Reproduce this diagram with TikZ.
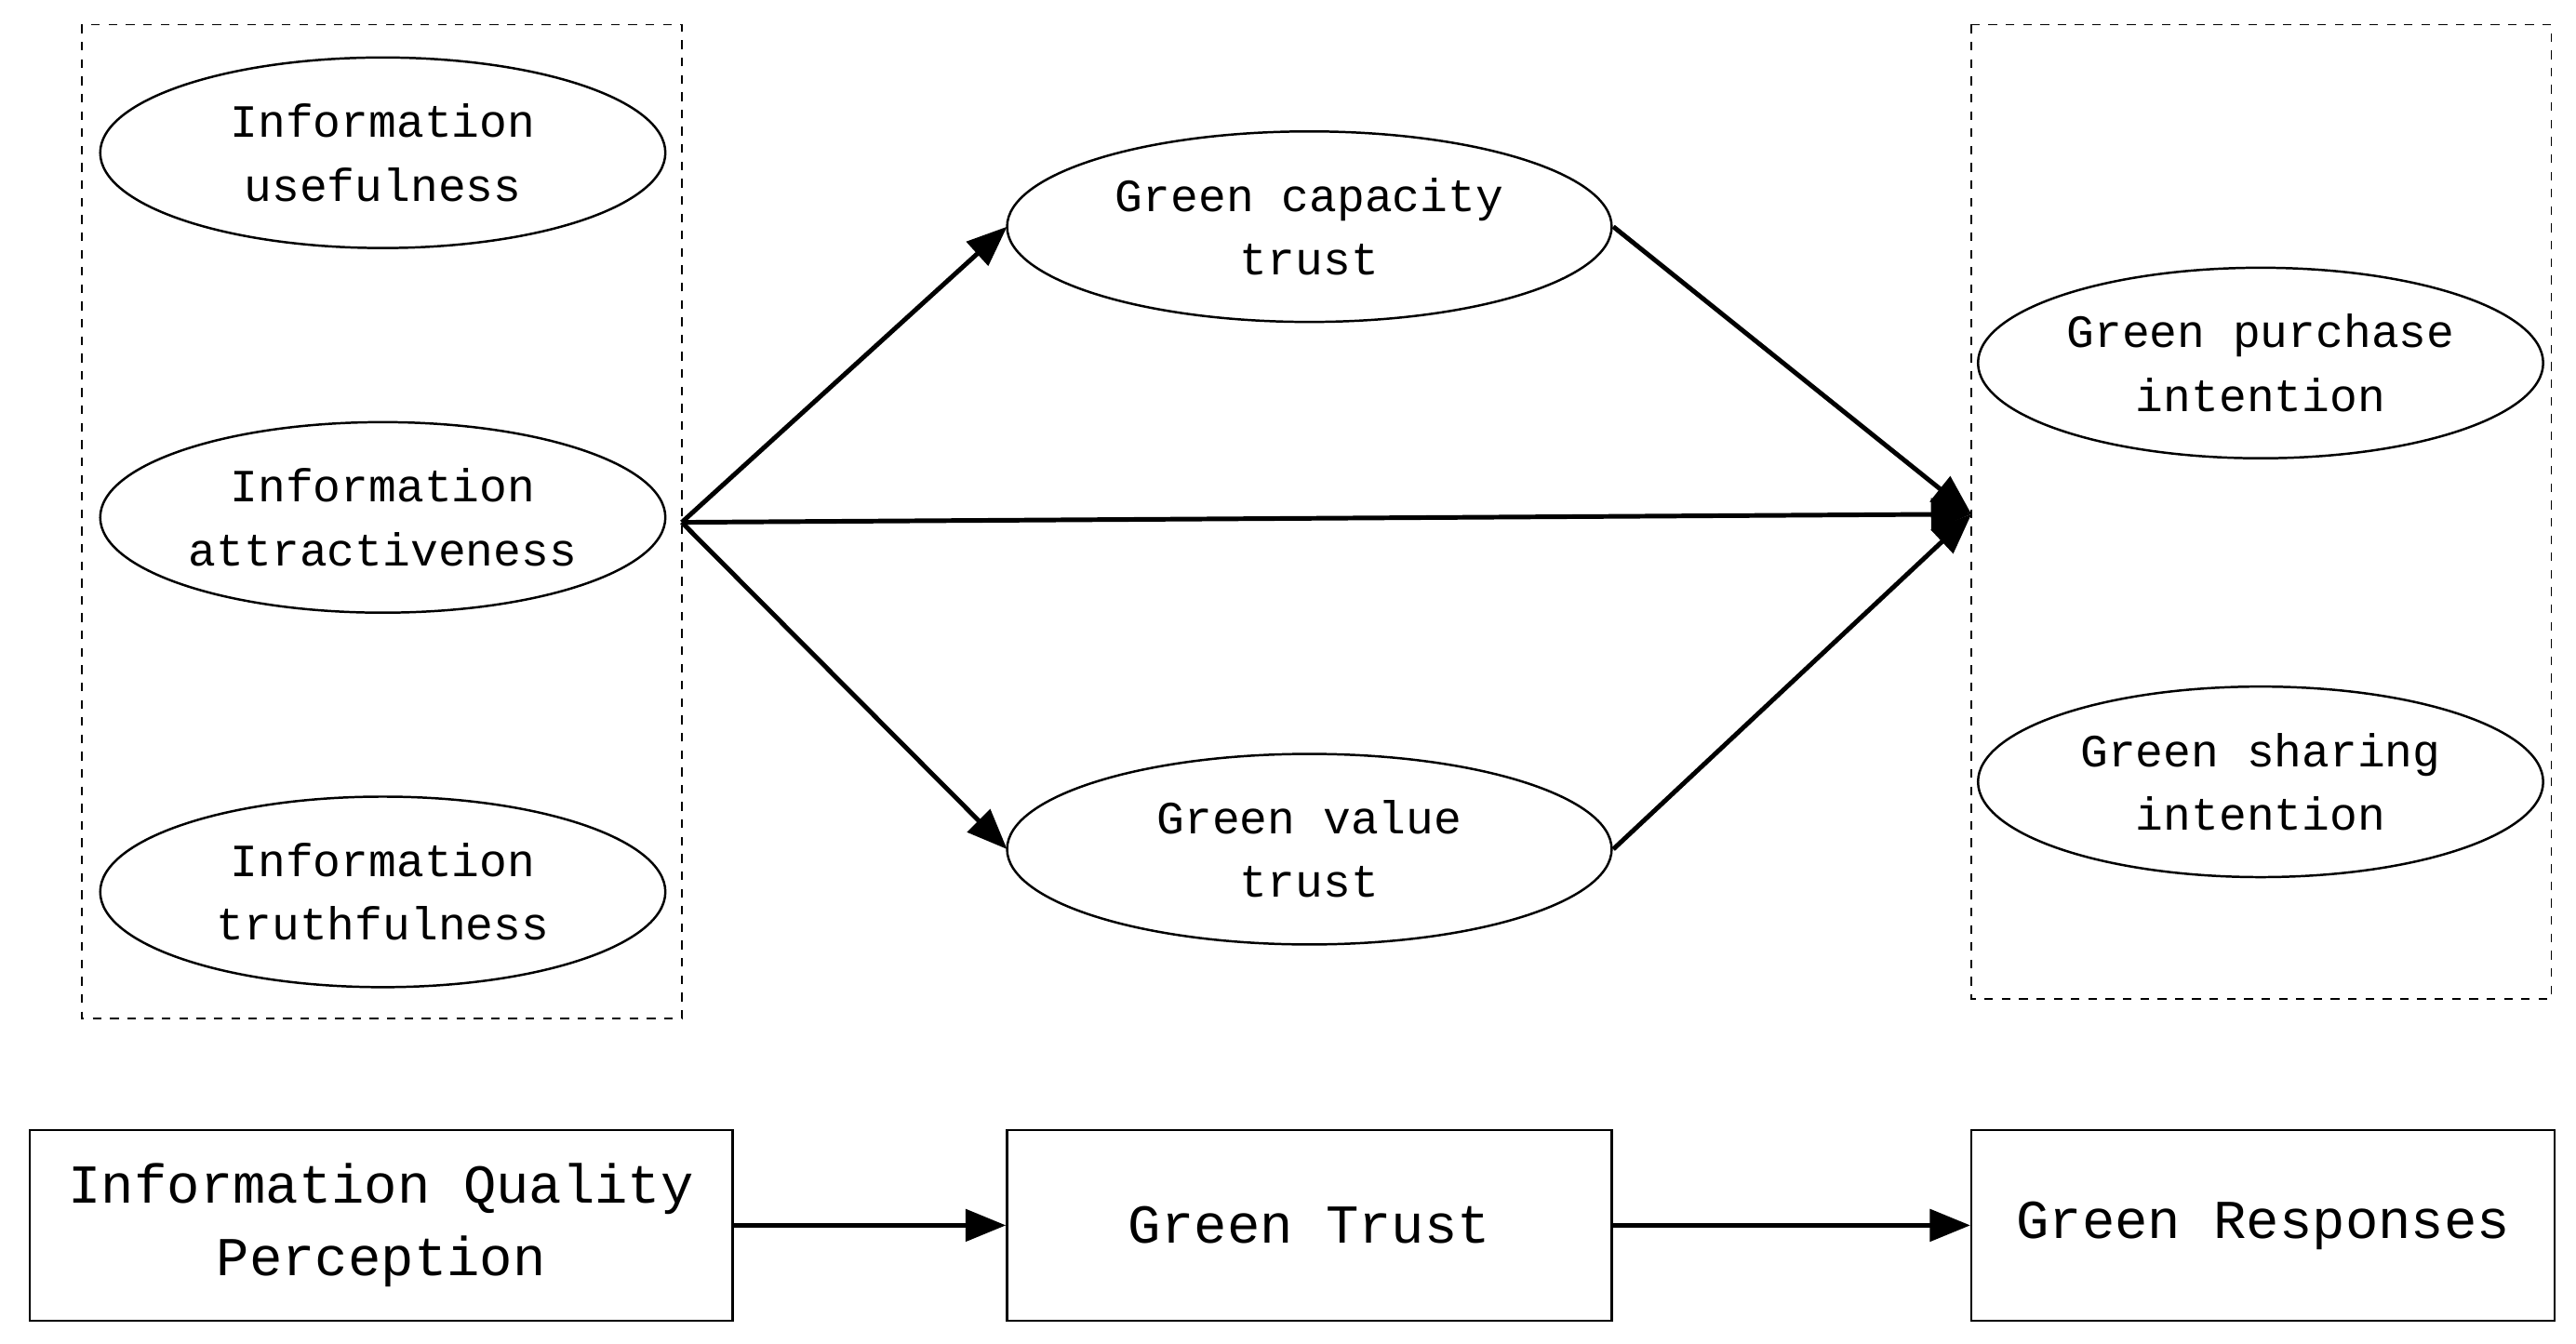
\documentclass[tikz,border=0pt]{standalone}
\usepackage{fontspec}
\setmainfont{Liberation Mono}
\usetikzlibrary{arrows.meta}
\begin{document}
\begin{tikzpicture}[x=0.02cm,y=-0.02cm,
 ell/.style={draw,line width=0.8pt,ellipse,minimum width=344\pgflinewidth,inner sep=0pt},
 txt/.style={align=center,font=\fontsize{16}{22}\selectfont},
 box/.style={draw,line width=0.8pt,align=center,font=\fontsize{19}{25}\selectfont},
 dbox/.style={draw,dashed,line width=0.6pt},
 arr/.style={line width=1.6pt,-{Triangle[length=14pt,width=11pt]}}]
\useasboundingbox (0,0) rectangle (1568,818);
\draw[dbox] (50,15) rectangle (415,620);
\draw[dbox] (1200,15) rectangle (1553,608);
\foreach \n/\y/\t in {iu/93/{Information\\usefulness},ia/315/{Information\\attractiveness},it/543/{Information\\truthfulness}}{
 \draw[line width=0.8pt] (233,\y) ellipse [x radius=172,y radius=58];
 \node[txt] (\n) at (233,\y) {\t};}
\foreach \n/\y/\t in {gc/138/{Green capacity\\trust},gv/517/{Green value\\trust}}{
 \draw[line width=0.8pt] (797,\y) ellipse [x radius=184,y radius=58];
 \node[txt] (\n) at (797,\y) {\t};}
\foreach \n/\y/\t in {gp/221/{Green purchase\\intention},gs/476/{Green sharing\\intention}}{
 \draw[line width=0.8pt] (1376,\y) ellipse [x radius=172,y radius=58];
 \node[txt] (\n) at (1376,\y) {\t};}
\coordinate (src) at (415,318);
\coordinate (gcl) at (613,138);
\coordinate (gvl) at (613,517);
\coordinate (gcr) at (982,138);
\coordinate (gvr) at (982,517);
\coordinate (dst) at (1200,313);
\draw[arr] (src) -- (gcl);
\draw[arr] (src) -- (gvl);
\draw[arr] (src) -- (dst);
\draw[arr] (gcr) -- (dst);
\draw[arr] (gvr) -- (dst);
\node[box,minimum width=428*0.02cm,minimum height=116*0.02cm] (iq) at (232,746) {Information Quality\\Perception};
\node[box,minimum width=368*0.02cm,minimum height=116*0.02cm] (gt) at (797,746) {Green Trust};
\node[box,minimum width=355*0.02cm,minimum height=116*0.02cm] (gr) at (1377.5,746) {Green Responses};
\draw[arr] (iq) -- (gt);
\draw[arr] (gt) -- (gr);
\end{tikzpicture}
\end{document}
